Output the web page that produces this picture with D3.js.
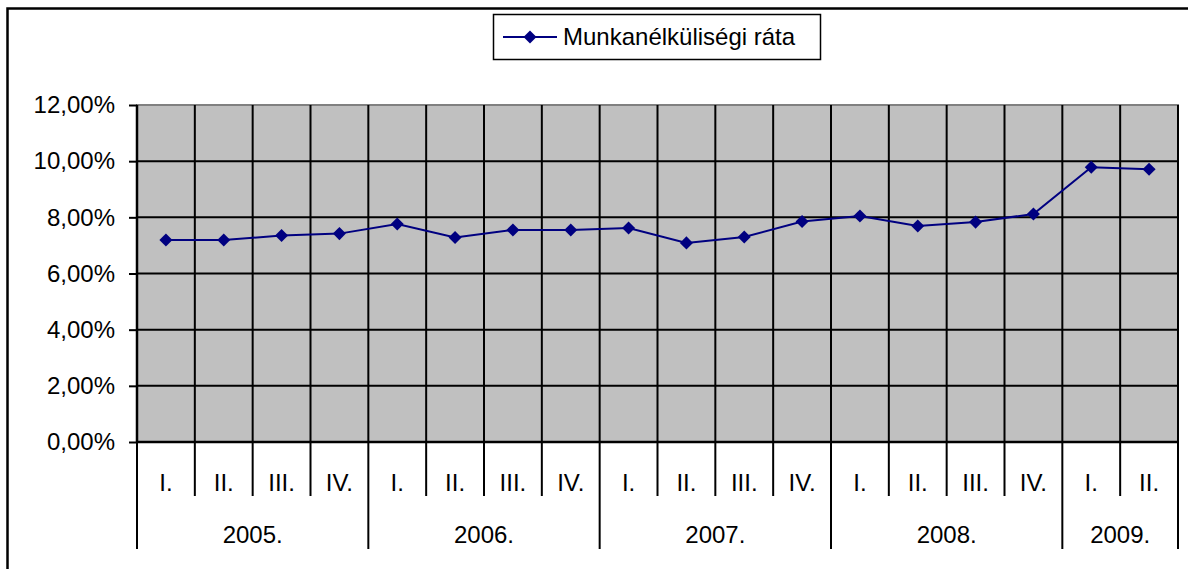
<!DOCTYPE html>
<html>
<head>
<meta charset="utf-8">
<script src="https://cdn.jsdelivr.net/npm/d3@7"></script>
<style>
  body { margin: 0; background: #fff; }
  text { font-family: "Liberation Sans", Arial, sans-serif; fill: #000; }
</style>
</head>
<body>
<div id="chart"></div>
<script>
// unemployment rate by quarter
const quarters = ['I.', 'II.', 'III.', 'IV.', 'I.', 'II.', 'III.', 'IV.', 'I.', 'II.', 'III.', 'IV.', 'I.', 'II.', 'III.', 'IV.', 'I.', 'II.'];
const years = ['2005.', '2006.', '2007.', '2008.', '2009.'];
const quartersPerYear = [4, 4, 4, 4, 2];
const rates = [0.0719, 0.0719, 0.0735, 0.0742, 0.0776, 0.0728, 0.0755, 0.0755, 0.0762, 0.0709, 0.0730, 0.0785, 0.0805, 0.0769, 0.0783, 0.0812, 0.0978, 0.0971];
const yTicks = [0, 0.02, 0.04, 0.06, 0.08, 0.10, 0.12];
const seriesName = 'Munkanélküliségi ráta';

const width = 1188, height = 569;
const margin = {top: 105, right: 10, bottom: 127, left: 137};
const plotRight = 1178;

const svg = d3.select('#chart').append('svg')
    .attr('width', width)
    .attr('height', height);

// outer chart frame
svg.append('rect')
    .attr('x', 7.5).attr('y', 8.5)
    .attr('width', 1200).attr('height', 600)
    .attr('fill', 'none')
    .attr('stroke', '#000')
    .attr('stroke-width', 2.5);

let x = d3.scaleBand()
    .domain(d3.range(rates.length))
    .range([margin.left, plotRight])
    .padding(0);

let y = d3.scaleLinear()
    .domain([0, 0.12])
    .range([height - margin.bottom - 0, margin.top]);

const huLocale = d3.formatLocale({decimal: ',', thousands: ' ', grouping: [3], currency: ['', ' Ft']});
const fmt = huLocale.format('.2%');

// plot background
svg.append('rect')
    .attr('x', margin.left).attr('y', y(0.12))
    .attr('width', plotRight - margin.left)
    .attr('height', y(0) - y(0.12))
    .attr('fill', '#c0c0c0')
    .attr('stroke', '#808080')
    .attr('stroke-width', 2);

// horizontal gridlines
svg.append('g')
  .selectAll('line')
  .data(yTicks.slice(1, -1))
  .join('line')
    .attr('x1', margin.left).attr('x2', plotRight)
    .attr('y1', d => y(d)).attr('y2', d => y(d))
    .attr('stroke', '#000')
    .attr('stroke-width', 2);

// vertical gridlines + quarter ticks
let yearStarts = [];
let acc = 0;
quartersPerYear.forEach(n => { yearStarts.push(acc); acc += n; });

svg.append('g')
  .selectAll('line')
  .data(d3.range(1, rates.length))
  .join('line')
    .attr('x1', d => x(d)).attr('x2', d => x(d))
    .attr('y1', y(0.12))
    .attr('y2', d => yearStarts.includes(d) ? 549 : 496)
    .attr('stroke', '#000')
    .attr('stroke-width', 2);

// year boundary lines at both ends
svg.append('g')
  .selectAll('line')
  .data([margin.left, plotRight])
  .join('line')
    .attr('x1', d => d).attr('x2', d => d)
    .attr('y1', y(0.12)).attr('y2', 549)
    .attr('stroke', '#000')
    .attr('stroke-width', 2);

// y axis
let yAxis = d3.axisLeft(y)
    .tickValues(yTicks)
    .tickFormat(fmt)
    .tickSize(8)
    .tickPadding(14);

let gy = svg.append('g')
    .attr('transform', 'translate(' + margin.left + ',0)')
    .call(yAxis);
gy.select('.domain').attr('stroke-width', 2.5).attr('d', 'M0,' + y(0.12) + 'V' + y(0));
gy.selectAll('.tick line').attr('stroke-width', 2);
gy.selectAll('.tick text')
    .style('font-family', '"Liberation Sans", Arial, sans-serif')
    .style('font-size', '24px')
    .attr('fill', '#000');

// x axis baseline
svg.append('line')
    .attr('x1', margin.left).attr('x2', plotRight)
    .attr('y1', y(0)).attr('y2', y(0))
    .attr('stroke', '#000')
    .attr('stroke-width', 2.5);

// quarter labels
svg.append('g')
  .selectAll('text')
  .data(quarters)
  .join('text')
    .attr('x', (d, i) => x(i) + x.bandwidth() / 2)
    .attr('y', 483)
    .attr('dy', '0.35em')
    .attr('text-anchor', 'middle')
    .style('font-size', '24px')
    .text(d => d);

// year labels
svg.append('g')
  .selectAll('text')
  .data(years)
  .join('text')
    .attr('x', (d, i) => {
      let s = yearStarts[i], e = s + quartersPerYear[i];
      let xe = e >= rates.length ? plotRight : x(e);
      return (x(s) + xe) / 2;
    })
    .attr('y', 535)
    .attr('dy', '0.35em')
    .attr('text-anchor', 'middle')
    .style('font-size', '24px')
    .text(d => d);

// series line
let line = d3.line()
    .x((d, i) => x(i) + x.bandwidth() / 2)
    .y(d => y(d));

svg.append('path')
    .datum(rates)
    .attr('d', line)
    .attr('fill', 'none')
    .attr('stroke', '#000080')
    .attr('stroke-width', 2);

let diamond = d3.symbol().type(d3.symbolSquare).size(85);

svg.append('g')
  .selectAll('path')
  .data(rates)
  .join('path')
    .attr('d', diamond)
    .attr('transform', (d, i) => 'translate(' + (x(i) + x.bandwidth() / 2) + ',' + y(d) + ') rotate(45)')
    .attr('fill', '#000080');

// legend
let legend = svg.append('g').attr('transform', 'translate(493,14)');
legend.append('rect')
    .attr('x', 0.5).attr('y', 0.5)
    .attr('width', 327).attr('height', 45)
    .attr('fill', '#fff')
    .attr('stroke', '#000')
    .attr('stroke-width', 1.5);
legend.append('line')
    .attr('x1', 10).attr('x2', 64)
    .attr('y1', 23).attr('y2', 23)
    .attr('stroke', '#000080')
    .attr('stroke-width', 2);
legend.append('path')
    .attr('d', diamond)
    .attr('transform', 'translate(37,23) rotate(45)')
    .attr('fill', '#000080');
legend.append('text')
    .attr('x', 70)
    .attr('y', 23)
    .attr('dy', '0.35em')
    .style('font-size', '24px')
    .text(seriesName);
</script>
</body>
</html>
